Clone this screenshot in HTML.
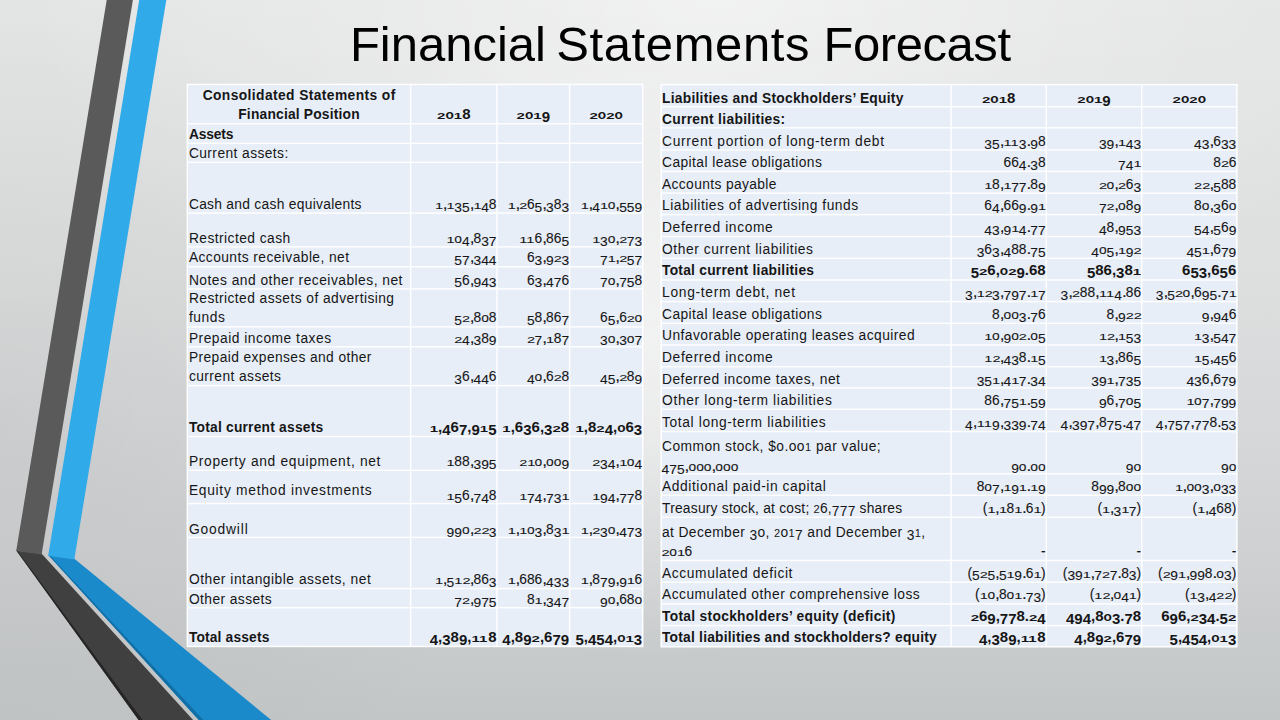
<!DOCTYPE html>
<html><head><meta charset="utf-8"><style>
html,body{margin:0;padding:0;}
body{width:1280px;height:720px;overflow:hidden;position:relative;background:#d6d8d8;font-family:"Liberation Sans", sans-serif;}
#bg{position:absolute;left:0;top:0;width:1280px;height:720px;background:radial-gradient(ellipse 450px 320px at 652px 340px, rgba(255,255,255,0.62) 0%, rgba(255,255,255,0.5) 30%, rgba(255,255,255,0.33) 50%, rgba(255,255,255,0.18) 70%, rgba(255,255,255,0.05) 90%, rgba(255,255,255,0) 100%),radial-gradient(ellipse 42% 62% at 0% 58%, rgba(0,0,0,0.05) 0%, rgba(0,0,0,0.028) 50%, rgba(0,0,0,0) 100%),radial-gradient(ellipse 55% 50% at 56% 0%, rgba(255,255,255,0.5) 0%, rgba(255,255,255,0.2) 50%, rgba(255,255,255,0) 100%),linear-gradient(to bottom, #e4e5e5 0%, #dedfdf 35%, #d8d9da 55%, #cfd1d2 75%, #c3c6c7 100%);}
svg{position:absolute;left:0;top:0;}
text{font-family:"Liberation Sans", sans-serif;fill:#161616;}
</style></head><body>
<div id="bg"></div>
<svg width="1280" height="720" viewBox="0 0 1280 720">

<polygon points="16.3,550.4 41.7,553.8 193.1,720 138.6,720" fill="#404040"/>
<polygon points="16.3,550.4 17.2,550.5 142.6,720 138.6,720" fill="#252525"/>
<polygon points="106.7,0 132.9,0 41.6,554.5 16.2,551.1" fill="#5a5a5a"/>
<polygon points="48.3,555 74.4,558.8 271.2,720 198.8,720" fill="#1a8aca"/>
<polygon points="48.3,555 49.6,555.2 203.4,720 198.8,720" fill="#116fa6"/>
<polygon points="139.2,0 166.3,0 74.3,559.5 48.2,555.7" fill="#31aae9"/>

<text style="fill:#000" id="tw1" x="349.90" y="61.40" font-size="49">Financial</text>
<text style="fill:#000" id="tw2" x="556.30" y="61.40" font-size="49" textLength="253.19" lengthAdjust="spacing">Statements</text>
<text style="fill:#000" id="tw3" x="823.40" y="61.40" font-size="49" textLength="187.65" lengthAdjust="spacing">Forecast</text>
<rect x="186.60" y="83.70" width="456.80" height="563.50" fill="#ffffff"/>
<rect x="188.00" y="85.10" width="221.90" height="37.90" fill="#e8eef8"/>
<rect x="411.30" y="85.10" width="85.00" height="37.90" fill="#e8eef8"/>
<rect x="497.70" y="85.10" width="71.20" height="37.90" fill="#e8eef8"/>
<rect x="570.30" y="85.10" width="71.70" height="37.90" fill="#e8eef8"/>
<rect x="188.00" y="124.40" width="221.90" height="18.25" fill="#e8eef8"/>
<rect x="411.30" y="124.40" width="85.00" height="18.25" fill="#e8eef8"/>
<rect x="497.70" y="124.40" width="71.20" height="18.25" fill="#e8eef8"/>
<rect x="570.30" y="124.40" width="71.70" height="18.25" fill="#e8eef8"/>
<rect x="188.00" y="144.05" width="221.90" height="17.55" fill="#e8eef8"/>
<rect x="411.30" y="144.05" width="85.00" height="17.55" fill="#e8eef8"/>
<rect x="497.70" y="144.05" width="71.20" height="17.55" fill="#e8eef8"/>
<rect x="570.30" y="144.05" width="71.70" height="17.55" fill="#e8eef8"/>
<rect x="188.00" y="163.00" width="221.90" height="49.40" fill="#e8eef8"/>
<rect x="411.30" y="163.00" width="85.00" height="49.40" fill="#e8eef8"/>
<rect x="497.70" y="163.00" width="71.20" height="49.40" fill="#e8eef8"/>
<rect x="570.30" y="163.00" width="71.70" height="49.40" fill="#e8eef8"/>
<rect x="188.00" y="213.80" width="221.90" height="32.40" fill="#e8eef8"/>
<rect x="411.30" y="213.80" width="85.00" height="32.40" fill="#e8eef8"/>
<rect x="497.70" y="213.80" width="71.20" height="32.40" fill="#e8eef8"/>
<rect x="570.30" y="213.80" width="71.70" height="32.40" fill="#e8eef8"/>
<rect x="188.00" y="247.60" width="221.90" height="18.50" fill="#e8eef8"/>
<rect x="411.30" y="247.60" width="85.00" height="18.50" fill="#e8eef8"/>
<rect x="497.70" y="247.60" width="71.20" height="18.50" fill="#e8eef8"/>
<rect x="570.30" y="247.60" width="71.70" height="18.50" fill="#e8eef8"/>
<rect x="188.00" y="267.50" width="221.90" height="20.70" fill="#e8eef8"/>
<rect x="411.30" y="267.50" width="85.00" height="20.70" fill="#e8eef8"/>
<rect x="497.70" y="267.50" width="71.20" height="20.70" fill="#e8eef8"/>
<rect x="570.30" y="267.50" width="71.70" height="20.70" fill="#e8eef8"/>
<rect x="188.00" y="289.60" width="221.90" height="36.60" fill="#e8eef8"/>
<rect x="411.30" y="289.60" width="85.00" height="36.60" fill="#e8eef8"/>
<rect x="497.70" y="289.60" width="71.20" height="36.60" fill="#e8eef8"/>
<rect x="570.30" y="289.60" width="71.70" height="36.60" fill="#e8eef8"/>
<rect x="188.00" y="327.60" width="221.90" height="18.50" fill="#e8eef8"/>
<rect x="411.30" y="327.60" width="85.00" height="18.50" fill="#e8eef8"/>
<rect x="497.70" y="327.60" width="71.20" height="18.50" fill="#e8eef8"/>
<rect x="570.30" y="327.60" width="71.70" height="18.50" fill="#e8eef8"/>
<rect x="188.00" y="347.50" width="221.90" height="37.40" fill="#e8eef8"/>
<rect x="411.30" y="347.50" width="85.00" height="37.40" fill="#e8eef8"/>
<rect x="497.70" y="347.50" width="71.20" height="37.40" fill="#e8eef8"/>
<rect x="570.30" y="347.50" width="71.70" height="37.40" fill="#e8eef8"/>
<rect x="188.00" y="386.30" width="221.90" height="49.50" fill="#e8eef8"/>
<rect x="411.30" y="386.30" width="85.00" height="49.50" fill="#e8eef8"/>
<rect x="497.70" y="386.30" width="71.20" height="49.50" fill="#e8eef8"/>
<rect x="570.30" y="386.30" width="71.70" height="49.50" fill="#e8eef8"/>
<rect x="188.00" y="437.20" width="221.90" height="32.40" fill="#e8eef8"/>
<rect x="411.30" y="437.20" width="85.00" height="32.40" fill="#e8eef8"/>
<rect x="497.70" y="437.20" width="71.20" height="32.40" fill="#e8eef8"/>
<rect x="570.30" y="437.20" width="71.70" height="32.40" fill="#e8eef8"/>
<rect x="188.00" y="471.00" width="221.90" height="31.90" fill="#e8eef8"/>
<rect x="411.30" y="471.00" width="85.00" height="31.90" fill="#e8eef8"/>
<rect x="497.70" y="471.00" width="71.20" height="31.90" fill="#e8eef8"/>
<rect x="570.30" y="471.00" width="71.70" height="31.90" fill="#e8eef8"/>
<rect x="188.00" y="504.30" width="221.90" height="32.40" fill="#e8eef8"/>
<rect x="411.30" y="504.30" width="85.00" height="32.40" fill="#e8eef8"/>
<rect x="497.70" y="504.30" width="71.20" height="32.40" fill="#e8eef8"/>
<rect x="570.30" y="504.30" width="71.70" height="32.40" fill="#e8eef8"/>
<rect x="188.00" y="538.10" width="221.90" height="49.80" fill="#e8eef8"/>
<rect x="411.30" y="538.10" width="85.00" height="49.80" fill="#e8eef8"/>
<rect x="497.70" y="538.10" width="71.20" height="49.80" fill="#e8eef8"/>
<rect x="570.30" y="538.10" width="71.70" height="49.80" fill="#e8eef8"/>
<rect x="188.00" y="589.30" width="221.90" height="17.70" fill="#e8eef8"/>
<rect x="411.30" y="589.30" width="85.00" height="17.70" fill="#e8eef8"/>
<rect x="497.70" y="589.30" width="71.20" height="17.70" fill="#e8eef8"/>
<rect x="570.30" y="589.30" width="71.70" height="17.70" fill="#e8eef8"/>
<rect x="188.00" y="608.40" width="221.90" height="37.40" fill="#e8eef8"/>
<rect x="411.30" y="608.40" width="85.00" height="37.40" fill="#e8eef8"/>
<rect x="497.70" y="608.40" width="71.20" height="37.40" fill="#e8eef8"/>
<rect x="570.30" y="608.40" width="71.70" height="37.40" fill="#e8eef8"/>
<text id="AL0_0" x="298.95" y="99.90" font-size="13.8" font-weight="bold" text-anchor="middle" textLength="192.65" lengthAdjust="spacing">Consolidated Statements of</text>
<text id="AL0_1" x="298.95" y="118.80" font-size="13.8" font-weight="bold" text-anchor="middle" textLength="121.45" lengthAdjust="spacing">Financial Position</text>
<g id="AN0_0" font-size="15.0" font-weight="bold"><text transform="matrix(1.0 0 0 0.66 437.12 119.30)">2</text><text transform="matrix(0.91 0 0 0.9 445.46 119.30)">o</text><text transform="matrix(1.0 0 0 0.66 453.80 119.30)">1</text><text x="462.14" y="119.30">8</text></g>
<g id="AN0_1" font-size="15.0" font-weight="bold"><text transform="matrix(1.0 0 0 0.66 516.62 119.30)">2</text><text transform="matrix(0.91 0 0 0.9 524.96 119.30)">o</text><text transform="matrix(1.0 0 0 0.66 533.30 119.30)">1</text><text transform="matrix(1.0 0 0 0.92 541.64 122.30)">9</text></g>
<g id="AN0_2" font-size="15.0" font-weight="bold"><text transform="matrix(1.0 0 0 0.66 589.47 119.30)">2</text><text transform="matrix(0.91 0 0 0.9 597.81 119.30)">o</text><text transform="matrix(1.0 0 0 0.66 606.15 119.30)">2</text><text transform="matrix(0.91 0 0 0.9 614.49 119.30)">o</text></g>
<text id="AL1_0" x="188.90" y="138.80" font-size="13.8" font-weight="bold" textLength="44.55" lengthAdjust="spacing">Assets</text>
<text id="AL2_0" x="188.90" y="157.80" font-size="13.8" textLength="99.33" lengthAdjust="spacing">Current assets:</text>
<text id="AL3_0" x="188.90" y="208.70" font-size="13.8" textLength="172.55" lengthAdjust="spacing">Cash and cash equivalents</text>
<g id="AN3_0" font-size="13.8" stroke="#161616" stroke-width="0.1"><text transform="matrix(1.06 0 0 0.7 435.11 208.90)">1</text><text transform="matrix(1.25 0 0 1.2 442.78 208.90)">,</text><text transform="matrix(1.06 0 0 0.7 446.62 208.90)">1</text><text transform="matrix(1.0 0 0 0.97 454.29 211.80)">35</text><text transform="matrix(1.25 0 0 1.2 469.64 208.90)">,</text><text transform="matrix(1.06 0 0 0.7 473.48 208.90)">1</text><text transform="matrix(1.0 0 0 0.97 481.15 211.80)">4</text><text x="488.83" y="208.90">8</text></g>
<g id="AN3_1" font-size="13.8" stroke="#161616" stroke-width="0.1"><text transform="matrix(1.06 0 0 0.7 507.71 208.90)">1</text><text transform="matrix(1.25 0 0 1.2 515.38 208.90)">,</text><text transform="matrix(1.06 0 0 0.7 519.22 208.90)">2</text><text x="526.89" y="208.90">6</text><text transform="matrix(1.0 0 0 0.97 534.57 211.80)">5</text><text transform="matrix(1.25 0 0 1.2 542.24 208.90)">,</text><text transform="matrix(1.0 0 0 0.97 546.08 211.80)">3</text><text x="553.75" y="208.90">8</text><text transform="matrix(1.0 0 0 0.97 561.43 211.80)">3</text></g>
<g id="AN3_2" font-size="13.8" stroke="#161616" stroke-width="0.1"><text transform="matrix(1.06 0 0 0.7 580.81 208.90)">1</text><text transform="matrix(1.25 0 0 1.2 588.48 208.90)">,</text><text transform="matrix(1.0 0 0 0.97 592.32 211.80)">4</text><text transform="matrix(1.06 0 0 0.7 599.99 208.90)">1</text><text transform="matrix(1.0 0 0 0.93 607.67 208.90)">o</text><text transform="matrix(1.25 0 0 1.2 615.34 208.90)">,</text><text transform="matrix(1.0 0 0 0.97 619.18 211.80)">559</text></g>
<text id="AL4_0" x="188.90" y="242.60" font-size="13.8" textLength="101.31" lengthAdjust="spacing">Restricted cash</text>
<g id="AN4_0" font-size="13.8" stroke="#161616" stroke-width="0.1"><text transform="matrix(1.06 0 0 0.7 446.62 242.60)">1</text><text transform="matrix(1.0 0 0 0.93 454.29 242.60)">o</text><text transform="matrix(1.0 0 0 0.97 461.97 245.50)">4</text><text transform="matrix(1.25 0 0 1.2 469.64 242.60)">,</text><text x="473.48" y="242.60">8</text><text transform="matrix(1.0 0 0 0.97 481.15 245.50)">37</text></g>
<g id="AN4_1" font-size="13.8" stroke="#161616" stroke-width="0.1"><text transform="matrix(1.06 0 0 0.7 519.22 242.60)">11</text><text x="534.57" y="242.60">6</text><text transform="matrix(1.25 0 0 1.2 542.24 242.60)">,</text><text x="546.08" y="242.60">86</text><text transform="matrix(1.0 0 0 0.97 561.43 245.50)">5</text></g>
<g id="AN4_2" font-size="13.8" stroke="#161616" stroke-width="0.1"><text transform="matrix(1.06 0 0 0.7 592.32 242.60)">1</text><text transform="matrix(1.0 0 0 0.97 599.99 245.50)">3</text><text transform="matrix(1.0 0 0 0.93 607.67 242.60)">o</text><text transform="matrix(1.25 0 0 1.2 615.34 242.60)">,</text><text transform="matrix(1.06 0 0 0.7 619.18 242.60)">2</text><text transform="matrix(1.0 0 0 0.97 626.85 245.50)">73</text></g>
<text id="AL5_0" x="188.90" y="262.10" font-size="13.8" textLength="160.14" lengthAdjust="spacing">Accounts receivable, net</text>
<g id="AN5_0" font-size="13.8" stroke="#161616" stroke-width="0.1"><text transform="matrix(1.0 0 0 0.97 454.29 265.00)">57</text><text transform="matrix(1.25 0 0 1.2 469.64 262.10)">,</text><text transform="matrix(1.0 0 0 0.97 473.48 265.00)">344</text></g>
<g id="AN5_1" font-size="13.8" stroke="#161616" stroke-width="0.1"><text x="526.89" y="262.10">6</text><text transform="matrix(1.0 0 0 0.97 534.57 265.00)">3</text><text transform="matrix(1.25 0 0 1.2 542.24 262.10)">,</text><text transform="matrix(1.0 0 0 0.97 546.08 265.00)">9</text><text transform="matrix(1.06 0 0 0.7 553.75 262.10)">2</text><text transform="matrix(1.0 0 0 0.97 561.43 265.00)">3</text></g>
<g id="AN5_2" font-size="13.8" stroke="#161616" stroke-width="0.1"><text transform="matrix(1.0 0 0 0.97 599.99 265.00)">7</text><text transform="matrix(1.06 0 0 0.7 607.67 262.10)">1</text><text transform="matrix(1.25 0 0 1.2 615.34 262.10)">,</text><text transform="matrix(1.06 0 0 0.7 619.18 262.10)">2</text><text transform="matrix(1.0 0 0 0.97 626.85 265.00)">57</text></g>
<text id="AL6_0" x="188.90" y="284.50" font-size="13.8" textLength="213.51" lengthAdjust="spacing">Notes and other receivables, net</text>
<g id="AN6_0" font-size="13.8" stroke="#161616" stroke-width="0.1"><text transform="matrix(1.0 0 0 0.97 454.29 287.40)">5</text><text x="461.97" y="284.50">6</text><text transform="matrix(1.25 0 0 1.2 469.64 284.50)">,</text><text transform="matrix(1.0 0 0 0.97 473.48 287.40)">943</text></g>
<g id="AN6_1" font-size="13.8" stroke="#161616" stroke-width="0.1"><text x="526.89" y="284.50">6</text><text transform="matrix(1.0 0 0 0.97 534.57 287.40)">3</text><text transform="matrix(1.25 0 0 1.2 542.24 284.50)">,</text><text transform="matrix(1.0 0 0 0.97 546.08 287.40)">47</text><text x="561.43" y="284.50">6</text></g>
<g id="AN6_2" font-size="13.8" stroke="#161616" stroke-width="0.1"><text transform="matrix(1.0 0 0 0.97 599.99 287.40)">7</text><text transform="matrix(1.0 0 0 0.93 607.67 284.50)">o</text><text transform="matrix(1.25 0 0 1.2 615.34 284.50)">,</text><text transform="matrix(1.0 0 0 0.97 619.18 287.40)">75</text><text x="634.53" y="284.50">8</text></g>
<text id="AL7_0" x="188.90" y="303.40" font-size="13.8" textLength="205.14" lengthAdjust="spacing">Restricted assets of advertising</text>
<text id="AL7_1" x="188.90" y="322.40" font-size="13.8" textLength="36.02" lengthAdjust="spacing">funds</text>
<g id="AN7_0" font-size="13.8" stroke="#161616" stroke-width="0.1"><text transform="matrix(1.0 0 0 0.97 454.29 325.30)">5</text><text transform="matrix(1.06 0 0 0.7 461.97 322.40)">2</text><text transform="matrix(1.25 0 0 1.2 469.64 322.40)">,</text><text x="473.48" y="322.40">8</text><text transform="matrix(1.0 0 0 0.93 481.15 322.40)">o</text><text x="488.83" y="322.40">8</text></g>
<g id="AN7_1" font-size="13.8" stroke="#161616" stroke-width="0.1"><text transform="matrix(1.0 0 0 0.97 526.89 325.30)">5</text><text x="534.57" y="322.40">8</text><text transform="matrix(1.25 0 0 1.2 542.24 322.40)">,</text><text x="546.08" y="322.40">86</text><text transform="matrix(1.0 0 0 0.97 561.43 325.30)">7</text></g>
<g id="AN7_2" font-size="13.8" stroke="#161616" stroke-width="0.1"><text x="599.99" y="322.40">6</text><text transform="matrix(1.0 0 0 0.97 607.67 325.30)">5</text><text transform="matrix(1.25 0 0 1.2 615.34 322.40)">,</text><text x="619.18" y="322.40">6</text><text transform="matrix(1.06 0 0 0.7 626.85 322.40)">2</text><text transform="matrix(1.0 0 0 0.93 634.53 322.40)">o</text></g>
<text id="AL8_0" x="188.90" y="342.50" font-size="13.8" textLength="142.16" lengthAdjust="spacing">Prepaid income taxes</text>
<g id="AN8_0" font-size="13.8" stroke="#161616" stroke-width="0.1"><text transform="matrix(1.06 0 0 0.7 454.29 342.50)">2</text><text transform="matrix(1.0 0 0 0.97 461.97 345.40)">4</text><text transform="matrix(1.25 0 0 1.2 469.64 342.50)">,</text><text transform="matrix(1.0 0 0 0.97 473.48 345.40)">3</text><text x="481.15" y="342.50">8</text><text transform="matrix(1.0 0 0 0.97 488.83 345.40)">9</text></g>
<g id="AN8_1" font-size="13.8" stroke="#161616" stroke-width="0.1"><text transform="matrix(1.06 0 0 0.7 526.89 342.50)">2</text><text transform="matrix(1.0 0 0 0.97 534.57 345.40)">7</text><text transform="matrix(1.25 0 0 1.2 542.24 342.50)">,</text><text transform="matrix(1.06 0 0 0.7 546.08 342.50)">1</text><text x="553.75" y="342.50">8</text><text transform="matrix(1.0 0 0 0.97 561.43 345.40)">7</text></g>
<g id="AN8_2" font-size="13.8" stroke="#161616" stroke-width="0.1"><text transform="matrix(1.0 0 0 0.97 599.99 345.40)">3</text><text transform="matrix(1.0 0 0 0.93 607.67 342.50)">o</text><text transform="matrix(1.25 0 0 1.2 615.34 342.50)">,</text><text transform="matrix(1.0 0 0 0.97 619.18 345.40)">3</text><text transform="matrix(1.0 0 0 0.93 626.85 342.50)">o</text><text transform="matrix(1.0 0 0 0.97 634.53 345.40)">7</text></g>
<text id="AL9_0" x="188.90" y="361.60" font-size="13.8" textLength="182.58" lengthAdjust="spacing">Prepaid expenses and other</text>
<text id="AL9_1" x="188.90" y="380.50" font-size="13.8" textLength="92.04" lengthAdjust="spacing">current assets</text>
<g id="AN9_0" font-size="13.8" stroke="#161616" stroke-width="0.1"><text transform="matrix(1.0 0 0 0.97 454.29 383.70)">3</text><text x="461.97" y="380.80">6</text><text transform="matrix(1.25 0 0 1.2 469.64 380.80)">,</text><text transform="matrix(1.0 0 0 0.97 473.48 383.70)">44</text><text x="488.83" y="380.80">6</text></g>
<g id="AN9_1" font-size="13.8" stroke="#161616" stroke-width="0.1"><text transform="matrix(1.0 0 0 0.97 526.89 383.70)">4</text><text transform="matrix(1.0 0 0 0.93 534.57 380.80)">o</text><text transform="matrix(1.25 0 0 1.2 542.24 380.80)">,</text><text x="546.08" y="380.80">6</text><text transform="matrix(1.06 0 0 0.7 553.75 380.80)">2</text><text x="561.43" y="380.80">8</text></g>
<g id="AN9_2" font-size="13.8" stroke="#161616" stroke-width="0.1"><text transform="matrix(1.0 0 0 0.97 599.99 383.70)">45</text><text transform="matrix(1.25 0 0 1.2 615.34 380.80)">,</text><text transform="matrix(1.06 0 0 0.7 619.18 380.80)">2</text><text x="626.85" y="380.80">8</text><text transform="matrix(1.0 0 0 0.97 634.53 383.70)">9</text></g>
<text id="AL10_0" x="188.90" y="431.90" font-size="13.8" font-weight="bold" textLength="134.30" lengthAdjust="spacing">Total current assets</text>
<g id="AN10_0" font-size="15.0" font-weight="bold"><text transform="matrix(1.0 0 0 0.66 429.77 431.90)">1</text><text x="438.11" y="431.90">,</text><text transform="matrix(1.0 0 0 0.92 442.28 434.90)">4</text><text x="450.62" y="431.90">6</text><text transform="matrix(1.0 0 0 0.92 458.96 434.90)">7</text><text x="467.31" y="431.90">,</text><text transform="matrix(1.0 0 0 0.92 471.47 434.90)">9</text><text transform="matrix(1.0 0 0 0.66 479.82 431.90)">1</text><text transform="matrix(1.0 0 0 0.92 488.16 434.90)">5</text></g>
<g id="AN10_1" font-size="15.0" font-weight="bold"><text transform="matrix(1.0 0 0 0.66 502.37 431.90)">1</text><text x="510.71" y="431.90">,6</text><text transform="matrix(1.0 0 0 0.92 523.22 434.90)">3</text><text x="531.56" y="431.90">6,</text><text transform="matrix(1.0 0 0 0.92 544.07 434.90)">3</text><text transform="matrix(1.0 0 0 0.66 552.42 431.90)">2</text><text x="560.76" y="431.90">8</text></g>
<g id="AN10_2" font-size="15.0" font-weight="bold"><text transform="matrix(1.0 0 0 0.66 575.47 431.90)">1</text><text x="583.81" y="431.90">,8</text><text transform="matrix(1.0 0 0 0.66 596.32 431.90)">2</text><text transform="matrix(1.0 0 0 0.92 604.66 434.90)">4</text><text x="613.01" y="431.90">,</text><text transform="matrix(0.91 0 0 0.9 617.17 431.90)">o</text><text x="625.52" y="431.90">6</text><text transform="matrix(1.0 0 0 0.92 633.86 434.90)">3</text></g>
<text id="AL11_0" x="188.90" y="465.60" font-size="13.8" textLength="191.56" lengthAdjust="spacing">Property and equipment, net</text>
<g id="AN11_0" font-size="13.8" stroke="#161616" stroke-width="0.1"><text transform="matrix(1.06 0 0 0.7 446.62 465.60)">1</text><text x="454.29" y="465.60">88</text><text transform="matrix(1.25 0 0 1.2 469.64 465.60)">,</text><text transform="matrix(1.0 0 0 0.97 473.48 468.50)">395</text></g>
<g id="AN11_1" font-size="13.8" stroke="#161616" stroke-width="0.1"><text transform="matrix(1.06 0 0 0.7 519.22 465.60)">21</text><text transform="matrix(1.0 0 0 0.93 534.57 465.60)">o</text><text transform="matrix(1.25 0 0 1.2 542.24 465.60)">,</text><text transform="matrix(1.0 0 0 0.93 546.08 465.60)">oo</text><text transform="matrix(1.0 0 0 0.97 561.43 468.50)">9</text></g>
<g id="AN11_2" font-size="13.8" stroke="#161616" stroke-width="0.1"><text transform="matrix(1.06 0 0 0.7 592.32 465.60)">2</text><text transform="matrix(1.0 0 0 0.97 599.99 468.50)">34</text><text transform="matrix(1.25 0 0 1.2 615.34 465.60)">,</text><text transform="matrix(1.06 0 0 0.7 619.18 465.60)">1</text><text transform="matrix(1.0 0 0 0.93 626.85 465.60)">o</text><text transform="matrix(1.0 0 0 0.97 634.53 468.50)">4</text></g>
<text id="AL12_0" x="188.90" y="494.90" font-size="13.8" textLength="182.74" lengthAdjust="spacing">Equity method investments</text>
<g id="AN12_0" font-size="13.8" stroke="#161616" stroke-width="0.1"><text transform="matrix(1.06 0 0 0.7 446.62 499.60)">1</text><text transform="matrix(1.0 0 0 0.97 454.29 502.50)">5</text><text x="461.97" y="499.60">6</text><text transform="matrix(1.25 0 0 1.2 469.64 499.60)">,</text><text transform="matrix(1.0 0 0 0.97 473.48 502.50)">74</text><text x="488.83" y="499.60">8</text></g>
<g id="AN12_1" font-size="13.8" stroke="#161616" stroke-width="0.1"><text transform="matrix(1.06 0 0 0.7 519.22 499.60)">1</text><text transform="matrix(1.0 0 0 0.97 526.89 502.50)">74</text><text transform="matrix(1.25 0 0 1.2 542.24 499.60)">,</text><text transform="matrix(1.0 0 0 0.97 546.08 502.50)">73</text><text transform="matrix(1.06 0 0 0.7 561.43 499.60)">1</text></g>
<g id="AN12_2" font-size="13.8" stroke="#161616" stroke-width="0.1"><text transform="matrix(1.06 0 0 0.7 592.32 499.60)">1</text><text transform="matrix(1.0 0 0 0.97 599.99 502.50)">94</text><text transform="matrix(1.25 0 0 1.2 615.34 499.60)">,</text><text transform="matrix(1.0 0 0 0.97 619.18 502.50)">77</text><text x="634.53" y="499.60">8</text></g>
<text id="AL13_0" x="188.90" y="533.60" font-size="13.8" textLength="58.86" lengthAdjust="spacing">Goodwill</text>
<g id="AN13_0" font-size="13.8" stroke="#161616" stroke-width="0.1"><text transform="matrix(1.0 0 0 0.97 446.62 536.50)">99</text><text transform="matrix(1.0 0 0 0.93 461.97 533.60)">o</text><text transform="matrix(1.25 0 0 1.2 469.64 533.60)">,</text><text transform="matrix(1.06 0 0 0.7 473.48 533.60)">22</text><text transform="matrix(1.0 0 0 0.97 488.83 536.50)">3</text></g>
<g id="AN13_1" font-size="13.8" stroke="#161616" stroke-width="0.1"><text transform="matrix(1.06 0 0 0.7 507.71 533.60)">1</text><text transform="matrix(1.25 0 0 1.2 515.38 533.60)">,</text><text transform="matrix(1.06 0 0 0.7 519.22 533.60)">1</text><text transform="matrix(1.0 0 0 0.93 526.89 533.60)">o</text><text transform="matrix(1.0 0 0 0.97 534.57 536.50)">3</text><text transform="matrix(1.25 0 0 1.2 542.24 533.60)">,</text><text x="546.08" y="533.60">8</text><text transform="matrix(1.0 0 0 0.97 553.75 536.50)">3</text><text transform="matrix(1.06 0 0 0.7 561.43 533.60)">1</text></g>
<g id="AN13_2" font-size="13.8" stroke="#161616" stroke-width="0.1"><text transform="matrix(1.06 0 0 0.7 580.81 533.60)">1</text><text transform="matrix(1.25 0 0 1.2 588.48 533.60)">,</text><text transform="matrix(1.06 0 0 0.7 592.32 533.60)">2</text><text transform="matrix(1.0 0 0 0.97 599.99 536.50)">3</text><text transform="matrix(1.0 0 0 0.93 607.67 533.60)">o</text><text transform="matrix(1.25 0 0 1.2 615.34 533.60)">,</text><text transform="matrix(1.0 0 0 0.97 619.18 536.50)">473</text></g>
<text id="AL14_0" x="188.90" y="583.70" font-size="13.8" textLength="181.87" lengthAdjust="spacing">Other intangible assets, net</text>
<g id="AN14_0" font-size="13.8" stroke="#161616" stroke-width="0.1"><text transform="matrix(1.06 0 0 0.7 435.11 583.70)">1</text><text transform="matrix(1.25 0 0 1.2 442.78 583.70)">,</text><text transform="matrix(1.0 0 0 0.97 446.62 586.60)">5</text><text transform="matrix(1.06 0 0 0.7 454.29 583.70)">12</text><text transform="matrix(1.25 0 0 1.2 469.64 583.70)">,</text><text x="473.48" y="583.70">86</text><text transform="matrix(1.0 0 0 0.97 488.83 586.60)">3</text></g>
<g id="AN14_1" font-size="13.8" stroke="#161616" stroke-width="0.1"><text transform="matrix(1.06 0 0 0.7 507.71 583.70)">1</text><text transform="matrix(1.25 0 0 1.2 515.38 583.70)">,</text><text x="519.22" y="583.70">686</text><text transform="matrix(1.25 0 0 1.2 542.24 583.70)">,</text><text transform="matrix(1.0 0 0 0.97 546.08 586.60)">433</text></g>
<g id="AN14_2" font-size="13.8" stroke="#161616" stroke-width="0.1"><text transform="matrix(1.06 0 0 0.7 580.81 583.70)">1</text><text transform="matrix(1.25 0 0 1.2 588.48 583.70)">,</text><text x="592.32" y="583.70">8</text><text transform="matrix(1.0 0 0 0.97 599.99 586.60)">79</text><text transform="matrix(1.25 0 0 1.2 615.34 583.70)">,</text><text transform="matrix(1.0 0 0 0.97 619.18 586.60)">9</text><text transform="matrix(1.06 0 0 0.7 626.85 583.70)">1</text><text x="634.53" y="583.70">6</text></g>
<text id="AL15_0" x="188.90" y="603.60" font-size="13.8" textLength="82.80" lengthAdjust="spacing">Other assets</text>
<g id="AN15_0" font-size="13.8" stroke="#161616" stroke-width="0.1"><text transform="matrix(1.0 0 0 0.97 454.29 606.50)">7</text><text transform="matrix(1.06 0 0 0.7 461.97 603.60)">2</text><text transform="matrix(1.25 0 0 1.2 469.64 603.60)">,</text><text transform="matrix(1.0 0 0 0.97 473.48 606.50)">975</text></g>
<g id="AN15_1" font-size="13.8" stroke="#161616" stroke-width="0.1"><text x="526.89" y="603.60">8</text><text transform="matrix(1.06 0 0 0.7 534.57 603.60)">1</text><text transform="matrix(1.25 0 0 1.2 542.24 603.60)">,</text><text transform="matrix(1.0 0 0 0.97 546.08 606.50)">347</text></g>
<g id="AN15_2" font-size="13.8" stroke="#161616" stroke-width="0.1"><text transform="matrix(1.0 0 0 0.97 599.99 606.50)">9</text><text transform="matrix(1.0 0 0 0.93 607.67 603.60)">o</text><text transform="matrix(1.25 0 0 1.2 615.34 603.60)">,</text><text x="619.18" y="603.60">68</text><text transform="matrix(1.0 0 0 0.93 634.53 603.60)">o</text></g>
<text id="AL16_0" x="188.90" y="641.70" font-size="13.8" font-weight="bold" textLength="80.48" lengthAdjust="spacing">Total assets</text>
<g id="AN16_0" font-size="15.0" font-weight="bold"><text transform="matrix(1.0 0 0 0.92 429.77 644.70)">4</text><text x="438.11" y="641.70">,</text><text transform="matrix(1.0 0 0 0.92 442.28 644.70)">3</text><text x="450.62" y="641.70">8</text><text transform="matrix(1.0 0 0 0.92 458.96 644.70)">9</text><text x="467.31" y="641.70">,</text><text transform="matrix(1.0 0 0 0.66 471.47 641.70)">11</text><text x="488.16" y="641.70">8</text></g>
<g id="AN16_1" font-size="15.0" font-weight="bold"><text transform="matrix(1.0 0 0 0.92 502.37 644.70)">4</text><text x="510.71" y="641.70">,8</text><text transform="matrix(1.0 0 0 0.92 523.22 644.70)">9</text><text transform="matrix(1.0 0 0 0.66 531.56 641.70)">2</text><text x="539.91" y="641.70">,6</text><text transform="matrix(1.0 0 0 0.92 552.42 644.70)">79</text></g>
<g id="AN16_2" font-size="15.0" font-weight="bold"><text transform="matrix(1.0 0 0 0.92 575.47 644.70)">5</text><text x="583.81" y="641.70">,</text><text transform="matrix(1.0 0 0 0.92 587.98 644.70)">454</text><text x="613.01" y="641.70">,</text><text transform="matrix(0.91 0 0 0.9 617.17 641.70)">o</text><text transform="matrix(1.0 0 0 0.66 625.52 641.70)">1</text><text transform="matrix(1.0 0 0 0.92 633.86 644.70)">3</text></g>
<rect x="660.50" y="83.90" width="577.10" height="563.60" fill="#ffffff"/>
<rect x="661.90" y="85.30" width="288.50" height="20.70" fill="#e8eef8"/>
<rect x="951.80" y="85.30" width="93.80" height="20.70" fill="#e8eef8"/>
<rect x="1047.00" y="85.30" width="94.00" height="20.70" fill="#e8eef8"/>
<rect x="1142.40" y="85.30" width="93.80" height="20.70" fill="#e8eef8"/>
<rect x="661.90" y="107.40" width="288.50" height="19.70" fill="#e8eef8"/>
<rect x="951.80" y="107.40" width="93.80" height="19.70" fill="#e8eef8"/>
<rect x="1047.00" y="107.40" width="94.00" height="19.70" fill="#e8eef8"/>
<rect x="1142.40" y="107.40" width="93.80" height="19.70" fill="#e8eef8"/>
<rect x="661.90" y="128.50" width="288.50" height="20.80" fill="#e8eef8"/>
<rect x="951.80" y="128.50" width="93.80" height="20.80" fill="#e8eef8"/>
<rect x="1047.00" y="128.50" width="94.00" height="20.80" fill="#e8eef8"/>
<rect x="1142.40" y="128.50" width="93.80" height="20.80" fill="#e8eef8"/>
<rect x="661.90" y="150.70" width="288.50" height="20.00" fill="#e8eef8"/>
<rect x="951.80" y="150.70" width="93.80" height="20.00" fill="#e8eef8"/>
<rect x="1047.00" y="150.70" width="94.00" height="20.00" fill="#e8eef8"/>
<rect x="1142.40" y="150.70" width="93.80" height="20.00" fill="#e8eef8"/>
<rect x="661.90" y="172.10" width="288.50" height="20.30" fill="#e8eef8"/>
<rect x="951.80" y="172.10" width="93.80" height="20.30" fill="#e8eef8"/>
<rect x="1047.00" y="172.10" width="94.00" height="20.30" fill="#e8eef8"/>
<rect x="1142.40" y="172.10" width="93.80" height="20.30" fill="#e8eef8"/>
<rect x="661.90" y="193.80" width="288.50" height="20.10" fill="#e8eef8"/>
<rect x="951.80" y="193.80" width="93.80" height="20.10" fill="#e8eef8"/>
<rect x="1047.00" y="193.80" width="94.00" height="20.10" fill="#e8eef8"/>
<rect x="1142.40" y="193.80" width="93.80" height="20.10" fill="#e8eef8"/>
<rect x="661.90" y="215.30" width="288.50" height="20.50" fill="#e8eef8"/>
<rect x="951.80" y="215.30" width="93.80" height="20.50" fill="#e8eef8"/>
<rect x="1047.00" y="215.30" width="94.00" height="20.50" fill="#e8eef8"/>
<rect x="1142.40" y="215.30" width="93.80" height="20.50" fill="#e8eef8"/>
<rect x="661.90" y="237.20" width="288.50" height="20.40" fill="#e8eef8"/>
<rect x="951.80" y="237.20" width="93.80" height="20.40" fill="#e8eef8"/>
<rect x="1047.00" y="237.20" width="94.00" height="20.40" fill="#e8eef8"/>
<rect x="1142.40" y="237.20" width="93.80" height="20.40" fill="#e8eef8"/>
<rect x="661.90" y="259.00" width="288.50" height="20.30" fill="#e8eef8"/>
<rect x="951.80" y="259.00" width="93.80" height="20.30" fill="#e8eef8"/>
<rect x="1047.00" y="259.00" width="94.00" height="20.30" fill="#e8eef8"/>
<rect x="1142.40" y="259.00" width="93.80" height="20.30" fill="#e8eef8"/>
<rect x="661.90" y="280.70" width="288.50" height="20.20" fill="#e8eef8"/>
<rect x="951.80" y="280.70" width="93.80" height="20.20" fill="#e8eef8"/>
<rect x="1047.00" y="280.70" width="94.00" height="20.20" fill="#e8eef8"/>
<rect x="1142.40" y="280.70" width="93.80" height="20.20" fill="#e8eef8"/>
<rect x="661.90" y="302.30" width="288.50" height="20.30" fill="#e8eef8"/>
<rect x="951.80" y="302.30" width="93.80" height="20.30" fill="#e8eef8"/>
<rect x="1047.00" y="302.30" width="94.00" height="20.30" fill="#e8eef8"/>
<rect x="1142.40" y="302.30" width="93.80" height="20.30" fill="#e8eef8"/>
<rect x="661.90" y="324.00" width="288.50" height="20.30" fill="#e8eef8"/>
<rect x="951.80" y="324.00" width="93.80" height="20.30" fill="#e8eef8"/>
<rect x="1047.00" y="324.00" width="94.00" height="20.30" fill="#e8eef8"/>
<rect x="1142.40" y="324.00" width="93.80" height="20.30" fill="#e8eef8"/>
<rect x="661.90" y="345.70" width="288.50" height="20.30" fill="#e8eef8"/>
<rect x="951.80" y="345.70" width="93.80" height="20.30" fill="#e8eef8"/>
<rect x="1047.00" y="345.70" width="94.00" height="20.30" fill="#e8eef8"/>
<rect x="1142.40" y="345.70" width="93.80" height="20.30" fill="#e8eef8"/>
<rect x="661.90" y="367.40" width="288.50" height="19.80" fill="#e8eef8"/>
<rect x="951.80" y="367.40" width="93.80" height="19.80" fill="#e8eef8"/>
<rect x="1047.00" y="367.40" width="94.00" height="19.80" fill="#e8eef8"/>
<rect x="1142.40" y="367.40" width="93.80" height="19.80" fill="#e8eef8"/>
<rect x="661.90" y="388.60" width="288.50" height="19.90" fill="#e8eef8"/>
<rect x="951.80" y="388.60" width="93.80" height="19.90" fill="#e8eef8"/>
<rect x="1047.00" y="388.60" width="94.00" height="19.90" fill="#e8eef8"/>
<rect x="1142.40" y="388.60" width="93.80" height="19.90" fill="#e8eef8"/>
<rect x="661.90" y="409.90" width="288.50" height="21.00" fill="#e8eef8"/>
<rect x="951.80" y="409.90" width="93.80" height="21.00" fill="#e8eef8"/>
<rect x="1047.00" y="409.90" width="94.00" height="21.00" fill="#e8eef8"/>
<rect x="1142.40" y="409.90" width="93.80" height="21.00" fill="#e8eef8"/>
<rect x="661.90" y="432.30" width="288.50" height="40.80" fill="#e8eef8"/>
<rect x="951.80" y="432.30" width="93.80" height="40.80" fill="#e8eef8"/>
<rect x="1047.00" y="432.30" width="94.00" height="40.80" fill="#e8eef8"/>
<rect x="1142.40" y="432.30" width="93.80" height="40.80" fill="#e8eef8"/>
<rect x="661.90" y="474.50" width="288.50" height="20.10" fill="#e8eef8"/>
<rect x="951.80" y="474.50" width="93.80" height="20.10" fill="#e8eef8"/>
<rect x="1047.00" y="474.50" width="94.00" height="20.10" fill="#e8eef8"/>
<rect x="1142.40" y="474.50" width="93.80" height="20.10" fill="#e8eef8"/>
<rect x="661.90" y="496.00" width="288.50" height="20.60" fill="#e8eef8"/>
<rect x="951.80" y="496.00" width="93.80" height="20.60" fill="#e8eef8"/>
<rect x="1047.00" y="496.00" width="94.00" height="20.60" fill="#e8eef8"/>
<rect x="1142.40" y="496.00" width="93.80" height="20.60" fill="#e8eef8"/>
<rect x="661.90" y="518.00" width="288.50" height="41.70" fill="#e8eef8"/>
<rect x="951.80" y="518.00" width="93.80" height="41.70" fill="#e8eef8"/>
<rect x="1047.00" y="518.00" width="94.00" height="41.70" fill="#e8eef8"/>
<rect x="1142.40" y="518.00" width="93.80" height="41.70" fill="#e8eef8"/>
<rect x="661.90" y="561.10" width="288.50" height="20.40" fill="#e8eef8"/>
<rect x="951.80" y="561.10" width="93.80" height="20.40" fill="#e8eef8"/>
<rect x="1047.00" y="561.10" width="94.00" height="20.40" fill="#e8eef8"/>
<rect x="1142.40" y="561.10" width="93.80" height="20.40" fill="#e8eef8"/>
<rect x="661.90" y="582.90" width="288.50" height="20.30" fill="#e8eef8"/>
<rect x="951.80" y="582.90" width="93.80" height="20.30" fill="#e8eef8"/>
<rect x="1047.00" y="582.90" width="94.00" height="20.30" fill="#e8eef8"/>
<rect x="1142.40" y="582.90" width="93.80" height="20.30" fill="#e8eef8"/>
<rect x="661.90" y="604.60" width="288.50" height="20.30" fill="#e8eef8"/>
<rect x="951.80" y="604.60" width="93.80" height="20.30" fill="#e8eef8"/>
<rect x="1047.00" y="604.60" width="94.00" height="20.30" fill="#e8eef8"/>
<rect x="1142.40" y="604.60" width="93.80" height="20.30" fill="#e8eef8"/>
<rect x="661.90" y="626.30" width="288.50" height="19.80" fill="#e8eef8"/>
<rect x="951.80" y="626.30" width="93.80" height="19.80" fill="#e8eef8"/>
<rect x="1047.00" y="626.30" width="94.00" height="19.80" fill="#e8eef8"/>
<rect x="1142.40" y="626.30" width="93.80" height="19.80" fill="#e8eef8"/>
<text id="BL0_0" x="662.00" y="102.60" font-size="13.8" font-weight="bold" textLength="241.35" lengthAdjust="spacing">Liabilities and Stockholders’ Equity</text>
<g id="BN0_0" font-size="15.0" font-weight="bold"><text transform="matrix(1.0 0 0 0.66 982.02 103.20)">2</text><text transform="matrix(0.91 0 0 0.9 990.36 103.20)">o</text><text transform="matrix(1.0 0 0 0.66 998.70 103.20)">1</text><text x="1007.04" y="103.20">8</text></g>
<g id="BN0_1" font-size="15.0" font-weight="bold"><text transform="matrix(1.0 0 0 0.66 1077.32 103.20)">2</text><text transform="matrix(0.91 0 0 0.9 1085.66 103.20)">o</text><text transform="matrix(1.0 0 0 0.66 1094.00 103.20)">1</text><text transform="matrix(1.0 0 0 0.92 1102.34 106.20)">9</text></g>
<g id="BN0_2" font-size="15.0" font-weight="bold"><text transform="matrix(1.0 0 0 0.66 1172.62 103.20)">2</text><text transform="matrix(0.91 0 0 0.9 1180.96 103.20)">o</text><text transform="matrix(1.0 0 0 0.66 1189.30 103.20)">2</text><text transform="matrix(0.91 0 0 0.9 1197.64 103.20)">o</text></g>
<text id="BL1_0" x="662.00" y="123.90" font-size="13.8" font-weight="bold" textLength="123.19" lengthAdjust="spacing">Current liabilities:</text>
<text id="BL2_0" x="662.00" y="145.60" font-size="13.8" textLength="222.02" lengthAdjust="spacing">Current portion of long-term debt</text>
<g id="BN2_0" font-size="13.8" stroke="#161616" stroke-width="0.1"><text transform="matrix(1.0 0 0 0.97 984.31 148.50)">35</text><text transform="matrix(1.25 0 0 1.2 999.66 145.60)">,</text><text transform="matrix(1.06 0 0 0.7 1003.49 145.60)">11</text><text transform="matrix(1.0 0 0 0.97 1018.84 148.50)">3</text><text transform="matrix(1.25 0 0 1.2 1026.52 145.60)">.</text><text transform="matrix(1.0 0 0 0.97 1030.35 148.50)">9</text><text x="1038.03" y="145.60">8</text></g>
<g id="BN2_1" font-size="13.8" stroke="#161616" stroke-width="0.1"><text transform="matrix(1.0 0 0 0.97 1098.89 148.50)">39</text><text transform="matrix(1.25 0 0 1.2 1114.24 145.60)">,</text><text transform="matrix(1.06 0 0 0.7 1118.08 145.60)">1</text><text transform="matrix(1.0 0 0 0.97 1125.75 148.50)">43</text></g>
<g id="BN2_2" font-size="13.8" stroke="#161616" stroke-width="0.1"><text transform="matrix(1.0 0 0 0.97 1194.09 148.50)">43</text><text transform="matrix(1.25 0 0 1.2 1209.44 145.60)">,</text><text x="1213.28" y="145.60">6</text><text transform="matrix(1.0 0 0 0.97 1220.95 148.50)">33</text></g>
<text id="BL3_0" x="662.00" y="166.70" font-size="13.8" textLength="159.79" lengthAdjust="spacing">Capital lease obligations</text>
<g id="BN3_0" font-size="13.8" stroke="#161616" stroke-width="0.1"><text x="1003.49" y="166.70">66</text><text transform="matrix(1.0 0 0 0.97 1018.84 169.60)">4</text><text transform="matrix(1.25 0 0 1.2 1026.52 166.70)">.</text><text transform="matrix(1.0 0 0 0.97 1030.35 169.60)">3</text><text x="1038.03" y="166.70">8</text></g>
<g id="BN3_1" font-size="13.8" stroke="#161616" stroke-width="0.1"><text transform="matrix(1.0 0 0 0.97 1118.08 169.60)">74</text><text transform="matrix(1.06 0 0 0.7 1133.43 166.70)">1</text></g>
<g id="BN3_2" font-size="13.8" stroke="#161616" stroke-width="0.1"><text x="1213.28" y="166.70">8</text><text transform="matrix(1.06 0 0 0.7 1220.95 166.70)">2</text><text x="1228.63" y="166.70">6</text></g>
<text id="BL4_0" x="662.00" y="188.70" font-size="13.8" textLength="114.47" lengthAdjust="spacing">Accounts payable</text>
<g id="BN4_0" font-size="13.8" stroke="#161616" stroke-width="0.1"><text transform="matrix(1.06 0 0 0.7 984.31 188.70)">1</text><text x="991.98" y="188.70">8</text><text transform="matrix(1.25 0 0 1.2 999.66 188.70)">,</text><text transform="matrix(1.06 0 0 0.7 1003.49 188.70)">1</text><text transform="matrix(1.0 0 0 0.97 1011.17 191.60)">77</text><text transform="matrix(1.25 0 0 1.2 1026.52 188.70)">.</text><text x="1030.35" y="188.70">8</text><text transform="matrix(1.0 0 0 0.97 1038.03 191.60)">9</text></g>
<g id="BN4_1" font-size="13.8" stroke="#161616" stroke-width="0.1"><text transform="matrix(1.06 0 0 0.7 1098.89 188.70)">2</text><text transform="matrix(1.0 0 0 0.93 1106.57 188.70)">o</text><text transform="matrix(1.25 0 0 1.2 1114.24 188.70)">,</text><text transform="matrix(1.06 0 0 0.7 1118.08 188.70)">2</text><text x="1125.75" y="188.70">6</text><text transform="matrix(1.0 0 0 0.97 1133.43 191.60)">3</text></g>
<g id="BN4_2" font-size="13.8" stroke="#161616" stroke-width="0.1"><text transform="matrix(1.06 0 0 0.7 1194.09 188.70)">22</text><text transform="matrix(1.25 0 0 1.2 1209.44 188.70)">,</text><text transform="matrix(1.0 0 0 0.97 1213.28 191.60)">5</text><text x="1220.95" y="188.70">88</text></g>
<text id="BL5_0" x="662.00" y="210.40" font-size="13.8" textLength="196.13" lengthAdjust="spacing">Liabilities of advertising funds</text>
<g id="BN5_0" font-size="13.8" stroke="#161616" stroke-width="0.1"><text x="984.31" y="210.40">6</text><text transform="matrix(1.0 0 0 0.97 991.98 213.30)">4</text><text transform="matrix(1.25 0 0 1.2 999.66 210.40)">,</text><text x="1003.49" y="210.40">66</text><text transform="matrix(1.0 0 0 0.97 1018.84 213.30)">9</text><text transform="matrix(1.25 0 0 1.2 1026.52 210.40)">.</text><text transform="matrix(1.0 0 0 0.97 1030.35 213.30)">9</text><text transform="matrix(1.06 0 0 0.7 1038.03 210.40)">1</text></g>
<g id="BN5_1" font-size="13.8" stroke="#161616" stroke-width="0.1"><text transform="matrix(1.0 0 0 0.97 1098.89 213.30)">7</text><text transform="matrix(1.06 0 0 0.7 1106.57 210.40)">2</text><text transform="matrix(1.25 0 0 1.2 1114.24 210.40)">,</text><text transform="matrix(1.0 0 0 0.93 1118.08 210.40)">o</text><text x="1125.75" y="210.40">8</text><text transform="matrix(1.0 0 0 0.97 1133.43 213.30)">9</text></g>
<g id="BN5_2" font-size="13.8" stroke="#161616" stroke-width="0.1"><text x="1194.09" y="210.40">8</text><text transform="matrix(1.0 0 0 0.93 1201.77 210.40)">o</text><text transform="matrix(1.25 0 0 1.2 1209.44 210.40)">,</text><text transform="matrix(1.0 0 0 0.97 1213.28 213.30)">3</text><text x="1220.95" y="210.40">6</text><text transform="matrix(1.0 0 0 0.93 1228.63 210.40)">o</text></g>
<text id="BL6_0" x="662.00" y="231.70" font-size="13.8" textLength="110.79" lengthAdjust="spacing">Deferred income</text>
<g id="BN6_0" font-size="13.8" stroke="#161616" stroke-width="0.1"><text transform="matrix(1.0 0 0 0.97 984.31 234.60)">43</text><text transform="matrix(1.25 0 0 1.2 999.66 231.70)">,</text><text transform="matrix(1.0 0 0 0.97 1003.49 234.60)">9</text><text transform="matrix(1.06 0 0 0.7 1011.17 231.70)">1</text><text transform="matrix(1.0 0 0 0.97 1018.84 234.60)">4</text><text transform="matrix(1.25 0 0 1.2 1026.52 231.70)">.</text><text transform="matrix(1.0 0 0 0.97 1030.35 234.60)">77</text></g>
<g id="BN6_1" font-size="13.8" stroke="#161616" stroke-width="0.1"><text transform="matrix(1.0 0 0 0.97 1098.89 234.60)">4</text><text x="1106.57" y="231.70">8</text><text transform="matrix(1.25 0 0 1.2 1114.24 231.70)">,</text><text transform="matrix(1.0 0 0 0.97 1118.08 234.60)">953</text></g>
<g id="BN6_2" font-size="13.8" stroke="#161616" stroke-width="0.1"><text transform="matrix(1.0 0 0 0.97 1194.09 234.60)">54</text><text transform="matrix(1.25 0 0 1.2 1209.44 231.70)">,</text><text transform="matrix(1.0 0 0 0.97 1213.28 234.60)">5</text><text x="1220.95" y="231.70">6</text><text transform="matrix(1.0 0 0 0.97 1228.63 234.60)">9</text></g>
<text id="BL7_0" x="662.00" y="253.90" font-size="13.8" textLength="151.02" lengthAdjust="spacing">Other current liabilities</text>
<g id="BN7_0" font-size="13.8" stroke="#161616" stroke-width="0.1"><text transform="matrix(1.0 0 0 0.97 976.63 256.80)">3</text><text x="984.31" y="253.90">6</text><text transform="matrix(1.0 0 0 0.97 991.98 256.80)">3</text><text transform="matrix(1.25 0 0 1.2 999.66 253.90)">,</text><text transform="matrix(1.0 0 0 0.97 1003.49 256.80)">4</text><text x="1011.17" y="253.90">88</text><text transform="matrix(1.25 0 0 1.2 1026.52 253.90)">.</text><text transform="matrix(1.0 0 0 0.97 1030.35 256.80)">75</text></g>
<g id="BN7_1" font-size="13.8" stroke="#161616" stroke-width="0.1"><text transform="matrix(1.0 0 0 0.97 1091.22 256.80)">4</text><text transform="matrix(1.0 0 0 0.93 1098.89 253.90)">o</text><text transform="matrix(1.0 0 0 0.97 1106.57 256.80)">5</text><text transform="matrix(1.25 0 0 1.2 1114.24 253.90)">,</text><text transform="matrix(1.06 0 0 0.7 1118.08 253.90)">1</text><text transform="matrix(1.0 0 0 0.97 1125.75 256.80)">9</text><text transform="matrix(1.06 0 0 0.7 1133.43 253.90)">2</text></g>
<g id="BN7_2" font-size="13.8" stroke="#161616" stroke-width="0.1"><text transform="matrix(1.0 0 0 0.97 1186.42 256.80)">45</text><text transform="matrix(1.06 0 0 0.7 1201.77 253.90)">1</text><text transform="matrix(1.25 0 0 1.2 1209.44 253.90)">,</text><text x="1213.28" y="253.90">6</text><text transform="matrix(1.0 0 0 0.97 1220.95 256.80)">79</text></g>
<text id="BL8_0" x="662.00" y="274.80" font-size="13.8" font-weight="bold" textLength="152.02" lengthAdjust="spacing">Total current liabilities</text>
<g id="BN8_0" font-size="15.0" font-weight="bold"><text transform="matrix(1.0 0 0 0.92 970.63 277.80)">5</text><text transform="matrix(1.0 0 0 0.66 978.97 274.80)">2</text><text x="987.31" y="274.80">6,</text><text transform="matrix(0.91 0 0 0.9 999.82 274.80)">o</text><text transform="matrix(1.0 0 0 0.66 1008.16 274.80)">2</text><text transform="matrix(1.0 0 0 0.92 1016.51 277.80)">9</text><text x="1024.85" y="274.80">.68</text></g>
<g id="BN8_1" font-size="15.0" font-weight="bold"><text transform="matrix(1.0 0 0 0.92 1086.88 277.80)">5</text><text x="1095.22" y="274.80">86,</text><text transform="matrix(1.0 0 0 0.92 1116.07 277.80)">3</text><text x="1124.42" y="274.80">8</text><text transform="matrix(1.0 0 0 0.66 1132.76 274.80)">1</text></g>
<g id="BN8_2" font-size="15.0" font-weight="bold"><text x="1182.08" y="274.80">6</text><text transform="matrix(1.0 0 0 0.92 1190.42 277.80)">53</text><text x="1207.11" y="274.80">,6</text><text transform="matrix(1.0 0 0 0.92 1219.62 277.80)">5</text><text x="1227.96" y="274.80">6</text></g>
<text id="BL9_0" x="662.00" y="297.00" font-size="13.8" textLength="133.09" lengthAdjust="spacing">Long-term debt, net</text>
<g id="BN9_0" font-size="13.8" stroke="#161616" stroke-width="0.1"><text transform="matrix(1.0 0 0 0.97 965.12 299.90)">3</text><text transform="matrix(1.25 0 0 1.2 972.80 297.00)">,</text><text transform="matrix(1.06 0 0 0.7 976.63 297.00)">12</text><text transform="matrix(1.0 0 0 0.97 991.98 299.90)">3</text><text transform="matrix(1.25 0 0 1.2 999.66 297.00)">,</text><text transform="matrix(1.0 0 0 0.97 1003.49 299.90)">797</text><text transform="matrix(1.25 0 0 1.2 1026.52 297.00)">.</text><text transform="matrix(1.06 0 0 0.7 1030.35 297.00)">1</text><text transform="matrix(1.0 0 0 0.97 1038.03 299.90)">7</text></g>
<g id="BN9_1" font-size="13.8" stroke="#161616" stroke-width="0.1"><text transform="matrix(1.0 0 0 0.97 1060.52 299.90)">3</text><text transform="matrix(1.25 0 0 1.2 1068.20 297.00)">,</text><text transform="matrix(1.06 0 0 0.7 1072.03 297.00)">2</text><text x="1079.71" y="297.00">88</text><text transform="matrix(1.25 0 0 1.2 1095.06 297.00)">,</text><text transform="matrix(1.06 0 0 0.7 1098.89 297.00)">11</text><text transform="matrix(1.0 0 0 0.97 1114.24 299.90)">4</text><text transform="matrix(1.25 0 0 1.2 1121.92 297.00)">.</text><text x="1125.75" y="297.00">86</text></g>
<g id="BN9_2" font-size="13.8" stroke="#161616" stroke-width="0.1"><text transform="matrix(1.0 0 0 0.97 1155.72 299.90)">3</text><text transform="matrix(1.25 0 0 1.2 1163.40 297.00)">,</text><text transform="matrix(1.0 0 0 0.97 1167.23 299.90)">5</text><text transform="matrix(1.06 0 0 0.7 1174.91 297.00)">2</text><text transform="matrix(1.0 0 0 0.93 1182.58 297.00)">o</text><text transform="matrix(1.25 0 0 1.2 1190.26 297.00)">,</text><text x="1194.09" y="297.00">6</text><text transform="matrix(1.0 0 0 0.97 1201.77 299.90)">95</text><text transform="matrix(1.25 0 0 1.2 1217.12 297.00)">.</text><text transform="matrix(1.0 0 0 0.97 1220.95 299.90)">7</text><text transform="matrix(1.06 0 0 0.7 1228.63 297.00)">1</text></g>
<text id="BL10_0" x="662.00" y="319.00" font-size="13.8" textLength="159.79" lengthAdjust="spacing">Capital lease obligations</text>
<g id="BN10_0" font-size="13.8" stroke="#161616" stroke-width="0.1"><text x="991.98" y="319.00">8</text><text transform="matrix(1.25 0 0 1.2 999.66 319.00)">,</text><text transform="matrix(1.0 0 0 0.93 1003.49 319.00)">oo</text><text transform="matrix(1.0 0 0 0.97 1018.84 321.90)">3</text><text transform="matrix(1.25 0 0 1.2 1026.52 319.00)">.</text><text transform="matrix(1.0 0 0 0.97 1030.35 321.90)">7</text><text x="1038.03" y="319.00">6</text></g>
<g id="BN10_1" font-size="13.8" stroke="#161616" stroke-width="0.1"><text x="1106.57" y="319.00">8</text><text transform="matrix(1.25 0 0 1.2 1114.24 319.00)">,</text><text transform="matrix(1.0 0 0 0.97 1118.08 321.90)">9</text><text transform="matrix(1.06 0 0 0.7 1125.75 319.00)">22</text></g>
<g id="BN10_2" font-size="13.8" stroke="#161616" stroke-width="0.1"><text transform="matrix(1.0 0 0 0.97 1201.77 321.90)">9</text><text transform="matrix(1.25 0 0 1.2 1209.44 319.00)">,</text><text transform="matrix(1.0 0 0 0.97 1213.28 321.90)">94</text><text x="1228.63" y="319.00">6</text></g>
<text id="BL11_0" x="662.00" y="340.00" font-size="13.8" textLength="252.68" lengthAdjust="spacing">Unfavorable operating leases acquired</text>
<g id="BN11_0" font-size="13.8" stroke="#161616" stroke-width="0.1"><text transform="matrix(1.06 0 0 0.7 984.31 340.00)">1</text><text transform="matrix(1.0 0 0 0.93 991.98 340.00)">o</text><text transform="matrix(1.25 0 0 1.2 999.66 340.00)">,</text><text transform="matrix(1.0 0 0 0.97 1003.49 342.90)">9</text><text transform="matrix(1.0 0 0 0.93 1011.17 340.00)">o</text><text transform="matrix(1.06 0 0 0.7 1018.84 340.00)">2</text><text transform="matrix(1.25 0 0 1.2 1026.52 340.00)">.</text><text transform="matrix(1.0 0 0 0.93 1030.35 340.00)">o</text><text transform="matrix(1.0 0 0 0.97 1038.03 342.90)">5</text></g>
<g id="BN11_1" font-size="13.8" stroke="#161616" stroke-width="0.1"><text transform="matrix(1.06 0 0 0.7 1098.89 340.00)">12</text><text transform="matrix(1.25 0 0 1.2 1114.24 340.00)">,</text><text transform="matrix(1.06 0 0 0.7 1118.08 340.00)">1</text><text transform="matrix(1.0 0 0 0.97 1125.75 342.90)">53</text></g>
<g id="BN11_2" font-size="13.8" stroke="#161616" stroke-width="0.1"><text transform="matrix(1.06 0 0 0.7 1194.09 340.00)">1</text><text transform="matrix(1.0 0 0 0.97 1201.77 342.90)">3</text><text transform="matrix(1.25 0 0 1.2 1209.44 340.00)">,</text><text transform="matrix(1.0 0 0 0.97 1213.28 342.90)">547</text></g>
<text id="BL12_0" x="662.00" y="362.00" font-size="13.8" textLength="110.79" lengthAdjust="spacing">Deferred income</text>
<g id="BN12_0" font-size="13.8" stroke="#161616" stroke-width="0.1"><text transform="matrix(1.06 0 0 0.7 984.31 362.00)">12</text><text transform="matrix(1.25 0 0 1.2 999.66 362.00)">,</text><text transform="matrix(1.0 0 0 0.97 1003.49 364.90)">43</text><text x="1018.84" y="362.00">8</text><text transform="matrix(1.25 0 0 1.2 1026.52 362.00)">.</text><text transform="matrix(1.06 0 0 0.7 1030.35 362.00)">1</text><text transform="matrix(1.0 0 0 0.97 1038.03 364.90)">5</text></g>
<g id="BN12_1" font-size="13.8" stroke="#161616" stroke-width="0.1"><text transform="matrix(1.06 0 0 0.7 1098.89 362.00)">1</text><text transform="matrix(1.0 0 0 0.97 1106.57 364.90)">3</text><text transform="matrix(1.25 0 0 1.2 1114.24 362.00)">,</text><text x="1118.08" y="362.00">86</text><text transform="matrix(1.0 0 0 0.97 1133.43 364.90)">5</text></g>
<g id="BN12_2" font-size="13.8" stroke="#161616" stroke-width="0.1"><text transform="matrix(1.06 0 0 0.7 1194.09 362.00)">1</text><text transform="matrix(1.0 0 0 0.97 1201.77 364.90)">5</text><text transform="matrix(1.25 0 0 1.2 1209.44 362.00)">,</text><text transform="matrix(1.0 0 0 0.97 1213.28 364.90)">45</text><text x="1228.63" y="362.00">6</text></g>
<text id="BL13_0" x="662.00" y="383.50" font-size="13.8" textLength="177.93" lengthAdjust="spacing">Deferred income taxes, net</text>
<g id="BN13_0" font-size="13.8" stroke="#161616" stroke-width="0.1"><text transform="matrix(1.0 0 0 0.97 976.63 386.40)">35</text><text transform="matrix(1.06 0 0 0.7 991.98 383.50)">1</text><text transform="matrix(1.25 0 0 1.2 999.66 383.50)">,</text><text transform="matrix(1.0 0 0 0.97 1003.49 386.40)">4</text><text transform="matrix(1.06 0 0 0.7 1011.17 383.50)">1</text><text transform="matrix(1.0 0 0 0.97 1018.84 386.40)">7</text><text transform="matrix(1.25 0 0 1.2 1026.52 383.50)">.</text><text transform="matrix(1.0 0 0 0.97 1030.35 386.40)">34</text></g>
<g id="BN13_1" font-size="13.8" stroke="#161616" stroke-width="0.1"><text transform="matrix(1.0 0 0 0.97 1091.22 386.40)">39</text><text transform="matrix(1.06 0 0 0.7 1106.57 383.50)">1</text><text transform="matrix(1.25 0 0 1.2 1114.24 383.50)">,</text><text transform="matrix(1.0 0 0 0.97 1118.08 386.40)">735</text></g>
<g id="BN13_2" font-size="13.8" stroke="#161616" stroke-width="0.1"><text transform="matrix(1.0 0 0 0.97 1186.42 386.40)">43</text><text x="1201.77" y="383.50">6</text><text transform="matrix(1.25 0 0 1.2 1209.44 383.50)">,</text><text x="1213.28" y="383.50">6</text><text transform="matrix(1.0 0 0 0.97 1220.95 386.40)">79</text></g>
<text id="BL14_0" x="662.00" y="404.80" font-size="13.8" textLength="169.83" lengthAdjust="spacing">Other long-term liabilities</text>
<g id="BN14_0" font-size="13.8" stroke="#161616" stroke-width="0.1"><text x="984.31" y="404.80">86</text><text transform="matrix(1.25 0 0 1.2 999.66 404.80)">,</text><text transform="matrix(1.0 0 0 0.97 1003.49 407.70)">75</text><text transform="matrix(1.06 0 0 0.7 1018.84 404.80)">1</text><text transform="matrix(1.25 0 0 1.2 1026.52 404.80)">.</text><text transform="matrix(1.0 0 0 0.97 1030.35 407.70)">59</text></g>
<g id="BN14_1" font-size="13.8" stroke="#161616" stroke-width="0.1"><text transform="matrix(1.0 0 0 0.97 1098.89 407.70)">9</text><text x="1106.57" y="404.80">6</text><text transform="matrix(1.25 0 0 1.2 1114.24 404.80)">,</text><text transform="matrix(1.0 0 0 0.97 1118.08 407.70)">7</text><text transform="matrix(1.0 0 0 0.93 1125.75 404.80)">o</text><text transform="matrix(1.0 0 0 0.97 1133.43 407.70)">5</text></g>
<g id="BN14_2" font-size="13.8" stroke="#161616" stroke-width="0.1"><text transform="matrix(1.06 0 0 0.7 1186.42 404.80)">1</text><text transform="matrix(1.0 0 0 0.93 1194.09 404.80)">o</text><text transform="matrix(1.0 0 0 0.97 1201.77 407.70)">7</text><text transform="matrix(1.25 0 0 1.2 1209.44 404.80)">,</text><text transform="matrix(1.0 0 0 0.97 1213.28 407.70)">799</text></g>
<text id="BL15_0" x="662.00" y="426.60" font-size="13.8" textLength="163.64" lengthAdjust="spacing">Total long-term liabilities</text>
<g id="BN15_0" font-size="13.8" stroke="#161616" stroke-width="0.1"><text transform="matrix(1.0 0 0 0.97 965.12 429.50)">4</text><text transform="matrix(1.25 0 0 1.2 972.80 426.60)">,</text><text transform="matrix(1.06 0 0 0.7 976.63 426.60)">11</text><text transform="matrix(1.0 0 0 0.97 991.98 429.50)">9</text><text transform="matrix(1.25 0 0 1.2 999.66 426.60)">,</text><text transform="matrix(1.0 0 0 0.97 1003.49 429.50)">339</text><text transform="matrix(1.25 0 0 1.2 1026.52 426.60)">.</text><text transform="matrix(1.0 0 0 0.97 1030.35 429.50)">74</text></g>
<g id="BN15_1" font-size="13.8" stroke="#161616" stroke-width="0.1"><text transform="matrix(1.0 0 0 0.97 1060.52 429.50)">4</text><text transform="matrix(1.25 0 0 1.2 1068.20 426.60)">,</text><text transform="matrix(1.0 0 0 0.97 1072.03 429.50)">397</text><text transform="matrix(1.25 0 0 1.2 1095.06 426.60)">,</text><text x="1098.89" y="426.60">8</text><text transform="matrix(1.0 0 0 0.97 1106.57 429.50)">75</text><text transform="matrix(1.25 0 0 1.2 1121.92 426.60)">.</text><text transform="matrix(1.0 0 0 0.97 1125.75 429.50)">47</text></g>
<g id="BN15_2" font-size="13.8" stroke="#161616" stroke-width="0.1"><text transform="matrix(1.0 0 0 0.97 1155.72 429.50)">4</text><text transform="matrix(1.25 0 0 1.2 1163.40 426.60)">,</text><text transform="matrix(1.0 0 0 0.97 1167.23 429.50)">757</text><text transform="matrix(1.25 0 0 1.2 1190.26 426.60)">,</text><text transform="matrix(1.0 0 0 0.97 1194.09 429.50)">77</text><text x="1209.44" y="426.60">8</text><text transform="matrix(1.25 0 0 1.2 1217.12 426.60)">.</text><text transform="matrix(1.0 0 0 0.97 1220.95 429.50)">53</text></g>
<text id="BL16_0" x="662.00" y="451.10" font-size="13.8" textLength="218.70" lengthAdjust="spacing">Common stock, $o.oo<tspan font-size="11.04">1</tspan> par value;</text>
<g id="BL16_1" font-size="13.8" stroke="#161616" stroke-width="0.1"><text transform="matrix(1.0 0 0 0.97 661.60 473.70)">475</text><text transform="matrix(1.25 0 0 1.2 684.62 470.80)">,</text><text transform="matrix(1.0 0 0 0.93 688.46 470.80)">ooo</text><text transform="matrix(1.25 0 0 1.2 711.48 470.80)">,</text><text transform="matrix(1.0 0 0 0.93 715.32 470.80)">ooo</text></g>
<g id="BN16_0" font-size="13.8" stroke="#161616" stroke-width="0.1"><text transform="matrix(1.0 0 0 0.97 1011.17 473.40)">9</text><text transform="matrix(1.0 0 0 0.93 1018.84 470.50)">o</text><text transform="matrix(1.25 0 0 1.2 1026.52 470.50)">.</text><text transform="matrix(1.0 0 0 0.93 1030.35 470.50)">oo</text></g>
<g id="BN16_1" font-size="13.8" stroke="#161616" stroke-width="0.1"><text transform="matrix(1.0 0 0 0.97 1125.75 473.40)">9</text><text transform="matrix(1.0 0 0 0.93 1133.43 470.50)">o</text></g>
<g id="BN16_2" font-size="13.8" stroke="#161616" stroke-width="0.1"><text transform="matrix(1.0 0 0 0.97 1220.95 473.40)">9</text><text transform="matrix(1.0 0 0 0.93 1228.63 470.50)">o</text></g>
<text id="BL17_0" x="662.00" y="490.90" font-size="13.8" textLength="163.93" lengthAdjust="spacing">Additional paid-in capital</text>
<g id="BN17_0" font-size="13.8" stroke="#161616" stroke-width="0.1"><text x="976.63" y="490.90">8</text><text transform="matrix(1.0 0 0 0.93 984.31 490.90)">o</text><text transform="matrix(1.0 0 0 0.97 991.98 493.80)">7</text><text transform="matrix(1.25 0 0 1.2 999.66 490.90)">,</text><text transform="matrix(1.06 0 0 0.7 1003.49 490.90)">1</text><text transform="matrix(1.0 0 0 0.97 1011.17 493.80)">9</text><text transform="matrix(1.06 0 0 0.7 1018.84 490.90)">1</text><text transform="matrix(1.25 0 0 1.2 1026.52 490.90)">.</text><text transform="matrix(1.06 0 0 0.7 1030.35 490.90)">1</text><text transform="matrix(1.0 0 0 0.97 1038.03 493.80)">9</text></g>
<g id="BN17_1" font-size="13.8" stroke="#161616" stroke-width="0.1"><text x="1091.22" y="490.90">8</text><text transform="matrix(1.0 0 0 0.97 1098.89 493.80)">99</text><text transform="matrix(1.25 0 0 1.2 1114.24 490.90)">,</text><text x="1118.08" y="490.90">8</text><text transform="matrix(1.0 0 0 0.93 1125.75 490.90)">oo</text></g>
<g id="BN17_2" font-size="13.8" stroke="#161616" stroke-width="0.1"><text transform="matrix(1.06 0 0 0.7 1174.91 490.90)">1</text><text transform="matrix(1.25 0 0 1.2 1182.58 490.90)">,</text><text transform="matrix(1.0 0 0 0.93 1186.42 490.90)">oo</text><text transform="matrix(1.0 0 0 0.97 1201.77 493.80)">3</text><text transform="matrix(1.25 0 0 1.2 1209.44 490.90)">,</text><text transform="matrix(1.0 0 0 0.93 1213.28 490.90)">o</text><text transform="matrix(1.0 0 0 0.97 1220.95 493.80)">33</text></g>
<text id="BL18_0" x="662.00" y="512.70" font-size="13.8" textLength="240.15" lengthAdjust="spacing">Treasury stock, at cost; <tspan font-size="11.04">2</tspan>6,<tspan baseline-shift="-2.9">7</tspan><tspan baseline-shift="-2.9">7</tspan><tspan baseline-shift="-2.9">7</tspan> shares</text>
<g id="BN18_0" font-size="13.8" stroke="#161616" stroke-width="0.1"><text x="982.79" y="512.70">(</text><text transform="matrix(1.06 0 0 0.7 987.39 512.70)">1</text><text transform="matrix(1.25 0 0 1.2 995.06 512.70)">,</text><text transform="matrix(1.06 0 0 0.7 998.90 512.70)">1</text><text x="1006.57" y="512.70">8</text><text transform="matrix(1.06 0 0 0.7 1014.25 512.70)">1</text><text transform="matrix(1.25 0 0 1.2 1021.92 512.70)">.</text><text x="1025.75" y="512.70">6</text><text transform="matrix(1.06 0 0 0.7 1033.43 512.70)">1</text><text x="1041.10" y="512.70">)</text></g>
<g id="BN18_1" font-size="13.8" stroke="#161616" stroke-width="0.1"><text x="1097.38" y="512.70">(</text><text transform="matrix(1.06 0 0 0.7 1101.97 512.70)">1</text><text transform="matrix(1.25 0 0 1.2 1109.65 512.70)">,</text><text transform="matrix(1.0 0 0 0.97 1113.48 515.60)">3</text><text transform="matrix(1.06 0 0 0.7 1121.15 512.70)">1</text><text transform="matrix(1.0 0 0 0.97 1128.83 515.60)">7</text><text x="1136.50" y="512.70">)</text></g>
<g id="BN18_2" font-size="13.8" stroke="#161616" stroke-width="0.1"><text x="1192.58" y="512.70">(</text><text transform="matrix(1.06 0 0 0.7 1197.17 512.70)">1</text><text transform="matrix(1.25 0 0 1.2 1204.85 512.70)">,</text><text transform="matrix(1.0 0 0 0.97 1208.68 515.60)">4</text><text x="1216.35" y="512.70">68)</text></g>
<text id="BL19_0" x="662.00" y="536.90" font-size="13.8" textLength="263.12" lengthAdjust="spacing">at December <tspan baseline-shift="-2.9">3</tspan>o, <tspan font-size="11.04">2</tspan>o<tspan font-size="11.04">1</tspan><tspan baseline-shift="-2.9">7</tspan> and December <tspan baseline-shift="-2.9">3</tspan><tspan font-size="11.04">1</tspan>,</text>
<g id="BL19_1" font-size="13.8" stroke="#161616" stroke-width="0.1"><text transform="matrix(1.06 0 0 0.7 661.60 555.80)">2</text><text transform="matrix(1.0 0 0 0.93 669.27 555.80)">o</text><text transform="matrix(1.06 0 0 0.7 676.95 555.80)">1</text><text x="684.62" y="555.80">6</text></g>
<g id="BN19_0" font-size="13.8" stroke="#161616" stroke-width="0.1"><text x="1041.10" y="555.50">-</text></g>
<g id="BN19_1" font-size="13.8" stroke="#161616" stroke-width="0.1"><text x="1136.50" y="555.50">-</text></g>
<g id="BN19_2" font-size="13.8" stroke="#161616" stroke-width="0.1"><text x="1231.70" y="555.50">-</text></g>
<text id="BL20_0" x="662.00" y="577.50" font-size="13.8" textLength="130.41" lengthAdjust="spacing">Accumulated deficit</text>
<g id="BN20_0" font-size="13.8" stroke="#161616" stroke-width="0.1"><text x="967.44" y="577.50">(</text><text transform="matrix(1.0 0 0 0.97 972.04 580.40)">5</text><text transform="matrix(1.06 0 0 0.7 979.71 577.50)">2</text><text transform="matrix(1.0 0 0 0.97 987.39 580.40)">5</text><text transform="matrix(1.25 0 0 1.2 995.06 577.50)">,</text><text transform="matrix(1.0 0 0 0.97 998.90 580.40)">5</text><text transform="matrix(1.06 0 0 0.7 1006.57 577.50)">1</text><text transform="matrix(1.0 0 0 0.97 1014.25 580.40)">9</text><text transform="matrix(1.25 0 0 1.2 1021.92 577.50)">.</text><text x="1025.75" y="577.50">6</text><text transform="matrix(1.06 0 0 0.7 1033.43 577.50)">1</text><text x="1041.10" y="577.50">)</text></g>
<g id="BN20_1" font-size="13.8" stroke="#161616" stroke-width="0.1"><text x="1062.84" y="577.50">(</text><text transform="matrix(1.0 0 0 0.97 1067.44 580.40)">39</text><text transform="matrix(1.06 0 0 0.7 1082.79 577.50)">1</text><text transform="matrix(1.25 0 0 1.2 1090.46 577.50)">,</text><text transform="matrix(1.0 0 0 0.97 1094.30 580.40)">7</text><text transform="matrix(1.06 0 0 0.7 1101.97 577.50)">2</text><text transform="matrix(1.0 0 0 0.97 1109.65 580.40)">7</text><text transform="matrix(1.25 0 0 1.2 1117.32 577.50)">.</text><text x="1121.15" y="577.50">8</text><text transform="matrix(1.0 0 0 0.97 1128.83 580.40)">3</text><text x="1136.50" y="577.50">)</text></g>
<g id="BN20_2" font-size="13.8" stroke="#161616" stroke-width="0.1"><text x="1158.04" y="577.50">(</text><text transform="matrix(1.06 0 0 0.7 1162.64 577.50)">2</text><text transform="matrix(1.0 0 0 0.97 1170.31 580.40)">9</text><text transform="matrix(1.06 0 0 0.7 1177.99 577.50)">1</text><text transform="matrix(1.25 0 0 1.2 1185.66 577.50)">,</text><text transform="matrix(1.0 0 0 0.97 1189.50 580.40)">99</text><text x="1204.85" y="577.50">8</text><text transform="matrix(1.25 0 0 1.2 1212.52 577.50)">.</text><text transform="matrix(1.0 0 0 0.93 1216.35 577.50)">o</text><text transform="matrix(1.0 0 0 0.97 1224.03 580.40)">3</text><text x="1231.70" y="577.50">)</text></g>
<text id="BL21_0" x="662.00" y="598.60" font-size="13.8" textLength="257.68" lengthAdjust="spacing">Accumulated other comprehensive loss</text>
<g id="BN21_0" font-size="13.8" stroke="#161616" stroke-width="0.1"><text x="975.12" y="598.60">(</text><text transform="matrix(1.06 0 0 0.7 979.71 598.60)">1</text><text transform="matrix(1.0 0 0 0.93 987.39 598.60)">o</text><text transform="matrix(1.25 0 0 1.2 995.06 598.60)">,</text><text x="998.90" y="598.60">8</text><text transform="matrix(1.0 0 0 0.93 1006.57 598.60)">o</text><text transform="matrix(1.06 0 0 0.7 1014.25 598.60)">1</text><text transform="matrix(1.25 0 0 1.2 1021.92 598.60)">.</text><text transform="matrix(1.0 0 0 0.97 1025.75 601.50)">73</text><text x="1041.10" y="598.60">)</text></g>
<g id="BN21_1" font-size="13.8" stroke="#161616" stroke-width="0.1"><text x="1089.70" y="598.60">(</text><text transform="matrix(1.06 0 0 0.7 1094.30 598.60)">12</text><text transform="matrix(1.25 0 0 1.2 1109.65 598.60)">,</text><text transform="matrix(1.0 0 0 0.93 1113.48 598.60)">o</text><text transform="matrix(1.0 0 0 0.97 1121.15 601.50)">4</text><text transform="matrix(1.06 0 0 0.7 1128.83 598.60)">1</text><text x="1136.50" y="598.60">)</text></g>
<g id="BN21_2" font-size="13.8" stroke="#161616" stroke-width="0.1"><text x="1184.90" y="598.60">(</text><text transform="matrix(1.06 0 0 0.7 1189.50 598.60)">1</text><text transform="matrix(1.0 0 0 0.97 1197.17 601.50)">3</text><text transform="matrix(1.25 0 0 1.2 1204.85 598.60)">,</text><text transform="matrix(1.0 0 0 0.97 1208.68 601.50)">4</text><text transform="matrix(1.06 0 0 0.7 1216.35 598.60)">22</text><text x="1231.70" y="598.60">)</text></g>
<text id="BL22_0" x="662.00" y="620.50" font-size="13.8" font-weight="bold" textLength="233.32" lengthAdjust="spacing">Total stockholders’ equity (deficit)</text>
<g id="BN22_0" font-size="15.0" font-weight="bold"><text transform="matrix(1.0 0 0 0.66 970.63 620.50)">2</text><text x="978.97" y="620.50">6</text><text transform="matrix(1.0 0 0 0.92 987.31 623.50)">9</text><text x="995.65" y="620.50">,</text><text transform="matrix(1.0 0 0 0.92 999.82 623.50)">77</text><text x="1016.51" y="620.50">8.</text><text transform="matrix(1.0 0 0 0.66 1029.02 620.50)">2</text><text transform="matrix(1.0 0 0 0.92 1037.36 623.50)">4</text></g>
<g id="BN22_1" font-size="15.0" font-weight="bold"><text transform="matrix(1.0 0 0 0.92 1066.03 623.50)">494</text><text x="1091.05" y="620.50">,8</text><text transform="matrix(0.91 0 0 0.9 1103.56 620.50)">o</text><text transform="matrix(1.0 0 0 0.92 1111.91 623.50)">3</text><text x="1120.25" y="620.50">.</text><text transform="matrix(1.0 0 0 0.92 1124.42 623.50)">7</text><text x="1132.76" y="620.50">8</text></g>
<g id="BN22_2" font-size="15.0" font-weight="bold"><text x="1161.23" y="620.50">6</text><text transform="matrix(1.0 0 0 0.92 1169.57 623.50)">9</text><text x="1177.91" y="620.50">6,</text><text transform="matrix(1.0 0 0 0.66 1190.42 620.50)">2</text><text transform="matrix(1.0 0 0 0.92 1198.76 623.50)">34</text><text x="1215.45" y="620.50">.</text><text transform="matrix(1.0 0 0 0.92 1219.62 623.50)">5</text><text transform="matrix(1.0 0 0 0.66 1227.96 620.50)">2</text></g>
<text id="BL23_0" x="662.00" y="641.60" font-size="13.8" font-weight="bold" textLength="274.78" lengthAdjust="spacing">Total liabilities and stockholders? equity</text>
<g id="BN23_0" font-size="15.0" font-weight="bold"><text transform="matrix(1.0 0 0 0.92 978.97 644.60)">4</text><text x="987.31" y="641.60">,</text><text transform="matrix(1.0 0 0 0.92 991.48 644.60)">3</text><text x="999.82" y="641.60">8</text><text transform="matrix(1.0 0 0 0.92 1008.16 644.60)">9</text><text x="1016.51" y="641.60">,</text><text transform="matrix(1.0 0 0 0.66 1020.67 641.60)">11</text><text x="1037.36" y="641.60">8</text></g>
<g id="BN23_1" font-size="15.0" font-weight="bold"><text transform="matrix(1.0 0 0 0.92 1074.37 644.60)">4</text><text x="1082.71" y="641.60">,8</text><text transform="matrix(1.0 0 0 0.92 1095.22 644.60)">9</text><text transform="matrix(1.0 0 0 0.66 1103.56 641.60)">2</text><text x="1111.91" y="641.60">,6</text><text transform="matrix(1.0 0 0 0.92 1124.42 644.60)">79</text></g>
<g id="BN23_2" font-size="15.0" font-weight="bold"><text transform="matrix(1.0 0 0 0.92 1169.57 644.60)">5</text><text x="1177.91" y="641.60">,</text><text transform="matrix(1.0 0 0 0.92 1182.08 644.60)">454</text><text x="1207.11" y="641.60">,</text><text transform="matrix(0.91 0 0 0.9 1211.27 641.60)">o</text><text transform="matrix(1.0 0 0 0.66 1219.62 641.60)">1</text><text transform="matrix(1.0 0 0 0.92 1227.96 644.60)">3</text></g>
</svg>
</body></html>
